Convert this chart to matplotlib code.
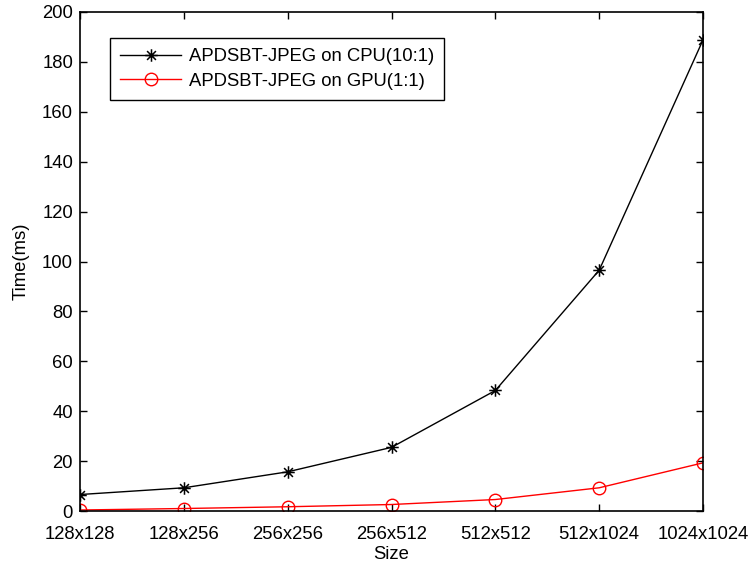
import matplotlib
matplotlib.use("Agg")
import matplotlib.pyplot as plt
from matplotlib.path import Path

categories = ["128x128", "128x256", "256x256", "256x512", "512x512", "512x1024", "1024x1024"]
cpu_times = [6.6, 9.3, 15.7, 25.5, 48.3, 96.5, 188.8]
gpu_times = [0.4, 1.0, 1.7, 2.6, 4.6, 9.3, 19.3]
yticks = [0, 20, 40, 60, 80, 100, 120, 140, 160, 180, 200]

plt.rcParams['font.family'] = ['Liberation Sans', 'DejaVu Sans']
fs = 13.3

# MATLAB-style asterisk marker made of line segments
d = 0.7071
star_verts = [(-1, 0), (1, 0), (0, -1), (0, 1), (-d, -d), (d, d), (-d, d), (d, -d)]
star_codes = [Path.MOVETO, Path.LINETO] * 4
star = Path(star_verts, star_codes)

fig = plt.figure(figsize=(7.53, 5.65), dpi=100)
ax = fig.add_axes([80/753, 1-511/565, 623/753, 499/565])

x = list(range(len(categories)))
ax.plot(x, cpu_times, color='black', lw=1.0, marker=star, ms=9, mew=1.1,
        mfc='none', label='APDSBT-JPEG on CPU(10:1)')
ax.plot(x, gpu_times, color='red', lw=1.0, marker='o', ms=9, mfc='none', mew=1.0,
        label='APDSBT-JPEG on GPU(1:1)')

ax.set_xlim(0, len(categories) - 1)
ax.set_ylim(0, 200)
ax.set_xticks(x)
ax.set_xticklabels(categories, fontsize=fs)
ax.set_yticks(yticks)
ax.set_yticklabels([str(v) for v in yticks], fontsize=fs)
ax.tick_params(direction='in', length=5, width=1, top=True, right=True)
ax.tick_params(axis='x', pad=11)
ax.tick_params(axis='y', pad=5)
for s in ax.spines.values():
    s.set_linewidth(1.2)

ax.set_xlabel('Size', fontsize=fs, labelpad=2)
ax.set_ylabel('Time(ms)', fontsize=fs, labelpad=9)

leg = ax.legend(loc='upper left', bbox_to_anchor=(30/623, (511-38)/499),
                borderaxespad=0, fontsize=fs, fancybox=False, framealpha=1,
                edgecolor='black', handlelength=3.3, handletextpad=0.4,
                borderpad=0.55, labelspacing=0.4)
leg.get_frame().set_linewidth(1.0)

fig.savefig('out.png', dpi=100)
